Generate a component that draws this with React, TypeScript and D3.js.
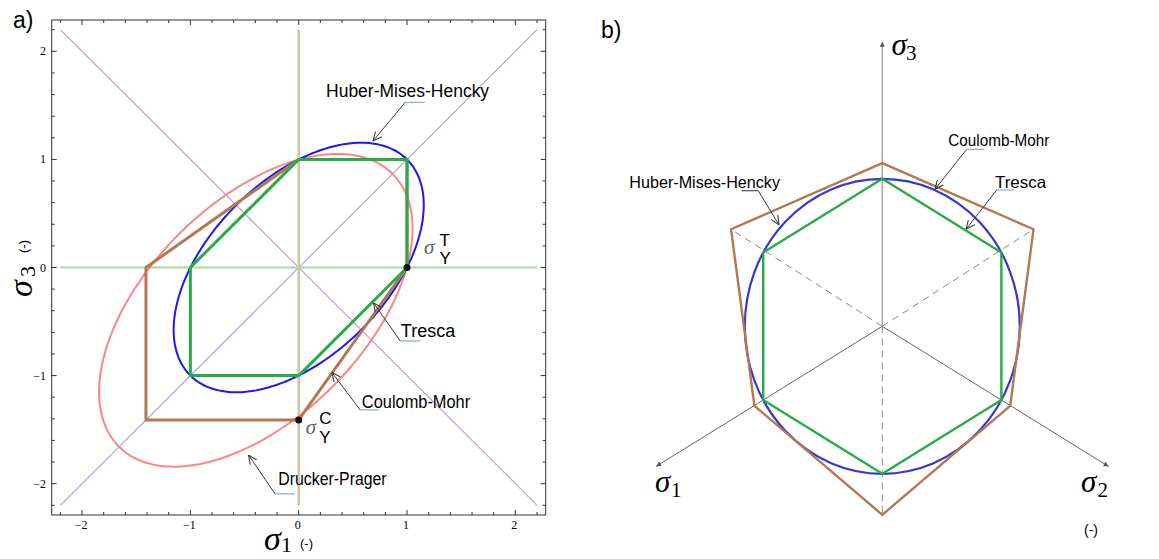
import React from 'react';
import * as d3 from 'd3';

const W = 1159;
const H = 559;

// ---------- Panel a data (plane stress, sigma1 vs sigma3) ----------
const majorTicks = [-2, -1, 0, 1, 2];
const tickLabels = ['−2', '−1', '0', '1', '2'];
const refExtent = 2.2;
const trescaS1 = [0, 1, 1, 0, -1, -1];
const trescaS3 = [1, 1, 0, -1, -1, 0];
const coulombS1 = [0, 1, 1, 0, -1.41, -1.41];
const coulombS3 = [1, 1, 0, -1.41, -1.41, 0];
// [centre along hydrostatic diagonal, semi-axis along diagonal, semi-axis across]
const hmhEllipse = [0, 1.414, 0.816];
const dpEllipse = [-0.56, 1.785, 1.0];
const yieldS1 = [1, 0];
const yieldS3 = [0, -1.41];

// ---------- Panel b data (deviatoric pi-plane) ----------
const trescaP = [0, 0.866, 0.866, 0, -0.866, -0.866];
const trescaQ = [1, 0.5, -0.5, -1, -0.5, 0.5];
const coulombP = [0, 1.1, 0.93, 0, -0.93, -1.1];
const coulombQ = [1.106, 0.658, -0.539, -1.278, -0.539, 0.658];
const hmhRadius = 1;
const axisDirP = [-0.866, 0.866, 0];
const axisDirQ = [-0.5, -0.5, 1];
const axisLength = [1.9, 1.9, 1.93];
const dashedVertex = [5, 1, 3];

const GREEN = '#2aab48';
const BLUE_A = '#1a1aee';
const BLUE_B = '#3838d0';
const BROWN = '#b37752';
const SALMON = '#ff8585';
const LEAD = '#7a98d8';
const ARROW = '#3a3a3a';
const SANS = '"Liberation Sans", Arial, sans-serif';
const SERIF = '"Liberation Serif", "Times New Roman", serif';

type Pt = [number, number];

function ellipsePts(params: number[]): Pt[] {
  const [u0, a, b] = params;
  return d3.range(0, 360, 2).map((deg) => {
    const t = (deg * Math.PI) / 180;
    const u = u0 + a * Math.cos(t);
    const v = b * Math.sin(t);
    return [(u + v) / Math.SQRT2, (u - v) / Math.SQRT2] as Pt;
  });
}
const zip = (xs: number[], ys: number[]): Pt[] => xs.map((x, i) => [x, ys[i]] as Pt);

export default function App() {
  // panel a scales
  const xA = d3.scaleLinear().domain([-2.28, 2.28]).range([51.7, 545.7]);
  const yA = d3.scaleLinear().domain([-2.29, 2.29]).range([515, 20]);
  const closedA = d3.line<Pt>().x((d) => xA(d[0])).y((d) => yA(d[1])).curve(d3.curveLinearClosed);
  const smoothA = d3.line<Pt>().x((d) => xA(d[0])).y((d) => yA(d[1])).curve(d3.curveCardinalClosed.tension(0.5));

  // panel b scales
  const xB = d3.scaleLinear().domain([0, 1]).range([882.3, 1019.8]);
  const yB = d3.scaleLinear().domain([0, 1]).range([326.3, 178.8]);
  const closedB = d3.line<Pt>().x((d) => xB(d[0])).y((d) => yB(d[1])).curve(d3.curveLinearClosed);

  const [x0, x1] = xA.range();
  const [y0, y1] = [yA.range()[1], yA.range()[0]]; // top, bottom
  const minor = d3.range(-22, 23, 2).map((v) => v / 10).filter((v) => Math.abs(v - Math.round(v)) > 1e-6);

  const tickEls: React.ReactNode[] = [];
  const addTicks = (vals: number[], len: number, key: string) => {
    vals.forEach((v, i) => {
      const px = xA(v);
      const py = yA(v);
      tickEls.push(<line key={`${key}b${i}`} x1={px} x2={px} y1={y1} y2={y1 - len} />);
      tickEls.push(<line key={`${key}t${i}`} x1={px} x2={px} y1={y0} y2={y0 + len} />);
      tickEls.push(<line key={`${key}l${i}`} x1={x0} x2={x0 + len} y1={py} y2={py} />);
      tickEls.push(<line key={`${key}r${i}`} x1={x1} x2={x1 - len} y1={py} y2={py} />);
    });
  };
  addTicks(majorTicks, 5, 'M');
  addTicks(minor, 3, 'm');

  // annotations panel a (data coordinates): text pos, leader start, leader end x, arrow tip
  const annA = [
    { label: 'Huber-Mises-Hencky', tx: 0.253, ty: 1.58, w: 163, lx: 0.983, ly: 1.528, lx2: 1.167, ax: 0.685, ay: 1.17 },
    { label: 'Tresca', tx: 0.943, ty: -0.64, w: 54.3, lx: 0.937, ly: -0.68, lx2: 1.122, ax: 0.69, ay: -0.326 },
    { label: 'Coulomb-Mohr', tx: 0.583, ty: -1.303, w: 108.3, lx: 0.568, ly: -1.318, lx2: 0.743, ax: 0.306, ay: -0.97 },
    { label: 'Drucker-Prager', tx: -0.188, ty: -2.011, w: 108.3, lx: -0.218, ly: -2.095, lx2: -0.034, ax: -0.463, ay: -1.735 },
  ];
  // annotations panel b (pi-plane coordinates)
  const annB = [
    { label: 'Huber-Mises-Hencky', tx: -1.84, ty: 0.941, w: 150.7, lx: -1.0225, lx2: -0.902, ly: 0.919, sx: -0.902, ax: -0.751, ay: 0.687, lead: '#333' },
    { label: 'Coulomb-Mohr', tx: 0.48, ty: 1.222, w: 101, lx: 0.614, lx2: 0.742, ly: 1.2, sx: 0.614, ax: 0.383, ay: 0.929, lead: LEAD },
    { label: 'Tresca', tx: 0.82, ty: 0.94, w: 51, lx: 0.832, lx2: 0.958, ly: 0.924, sx: 0.832, ax: 0.609, ay: 0.658, lead: LEAD },
  ];

  const origin: Pt = [0, 0];

  return (
    <svg width={W} height={H} style={{ position: 'absolute', left: 0, top: 0, background: '#fff' }}>
      <defs>
        <marker id="ann" viewBox="0 0 10 10" refX="10" refY="5" markerWidth="9" markerHeight="9" markerUnits="userSpaceOnUse" orient="auto">
          <path d="M0,0.5 L10,5 L0,9.5" fill="none" stroke={ARROW} strokeWidth="1.2" />
        </marker>
        <marker id="ax" viewBox="0 0 10 10" refX="10" refY="5" markerWidth="6" markerHeight="5" markerUnits="userSpaceOnUse" orient="auto">
          <path d="M0,0 L10,5 L0,10 Z" fill="#555" />
        </marker>
      </defs>

      {/* ================= Panel a ================= */}
      <text x={13} y={28} fontFamily={SANS} fontSize={23}>a)</text>

      {/* reference lines */}
      <line x1={xA(-refExtent)} y1={yA(-refExtent)} x2={xA(refExtent)} y2={yA(refExtent)} stroke="#a2a2dc" strokeWidth={1.1} />
      <line x1={xA(-refExtent)} y1={yA(refExtent)} x2={xA(refExtent)} y2={yA(-refExtent)} stroke="#c896c0" strokeWidth={1.1} />
      <line x1={xA(-refExtent)} y1={yA(0)} x2={xA(refExtent)} y2={yA(0)} stroke="#a8d6a8" strokeWidth={2} />
      <line x1={xA(0)} y1={yA(-refExtent)} x2={xA(0)} y2={yA(refExtent)} stroke="#d0c4a2" strokeWidth={2.5} />

      {/* yield surfaces */}
      <path d={smoothA(ellipsePts(dpEllipse)) || ''} fill="none" stroke={SALMON} strokeWidth={2} />
      <path d={smoothA(ellipsePts(hmhEllipse)) || ''} fill="none" stroke={BLUE_A} strokeWidth={2} />
      <path d={closedA(zip(coulombS1, coulombS3)) || ''} fill="none" stroke={BROWN} strokeWidth={3} strokeLinejoin="round" />
      <path d={closedA(zip(trescaS1, trescaS3)) || ''} fill="none" stroke={GREEN} strokeWidth={3} strokeLinejoin="round" />
      {yieldS1.map((s, i) => (
        <circle key={i} cx={xA(s)} cy={yA(yieldS3[i])} r={3.5} fill="#111" />
      ))}

      {/* yield point labels */}
      <text x={xA(yieldS1[0]) + 17} y={yA(yieldS3[0]) - 14} fontFamily={SERIF} fontStyle="italic" fontSize={21} fill="#666">σ</text>
      <text x={xA(yieldS1[0]) + 32.5} y={yA(yieldS3[0]) - 21.5} fontFamily={SANS} fontSize={17}>T</text>
      <text x={xA(yieldS1[0]) + 32.5} y={yA(yieldS3[0]) - 4} fontFamily={SANS} fontSize={17}>Y</text>
      <text x={xA(yieldS1[1]) + 7} y={yA(yieldS3[1]) + 14} fontFamily={SERIF} fontStyle="italic" fontSize={21} fill="#666">σ</text>
      <text x={xA(yieldS1[1]) + 20.6} y={yA(yieldS3[1]) + 4} fontFamily={SANS} fontSize={17}>C</text>
      <text x={xA(yieldS1[1]) + 20.6} y={yA(yieldS3[1]) + 23.4} fontFamily={SANS} fontSize={17}>Y</text>

      {/* frame & ticks */}
      <rect x={x0} y={y0} width={x1 - x0} height={y1 - y0} fill="none" stroke="#333" strokeWidth={1} />
      <g stroke="#333" strokeWidth={1}>{tickEls}</g>
      {majorTicks.map((v, i) => (
        <text key={`yl${i}`} x={46} y={yA(v) + 4} textAnchor="end" fontFamily={SERIF} fontSize={12}>{tickLabels[i]}</text>
      ))}
      {majorTicks.map((v, i) => (
        <text key={`xl${i}`} x={xA(v) - 1} y={529} textAnchor="middle" fontFamily={SERIF} fontSize={12}>{tickLabels[i]}</text>
      ))}

      {/* axis titles */}
      <text x={264} y={550} fontFamily={SERIF} fontStyle="italic" fontSize={34}>σ</text>
      <text x={281} y={552} fontFamily={SERIF} fontSize={22}>1</text>
      <text x={300} y={548} fontFamily={SANS} fontSize={13}>(-)</text>
      <g transform="translate(32,297) rotate(-90)">
        <text x={0} y={0} fontFamily={SERIF} fontStyle="italic" fontSize={34}>σ</text>
        <text x={20} y={3} fontFamily={SERIF} fontSize={22}>3</text>
        <text x={44} y={-4} fontFamily={SANS} fontSize={13}>(-)</text>
      </g>

      {/* annotations */}
      {annA.map((a, i) => (
        <g key={`aa${i}`}>
          <text x={xA(a.tx)} y={yA(a.ty)} fontFamily={SANS} fontSize={17.5} textLength={a.w} lengthAdjust="spacingAndGlyphs">{a.label}</text>
          <line x1={xA(a.lx)} y1={yA(a.ly)} x2={xA(a.lx2)} y2={yA(a.ly)} stroke={LEAD} strokeWidth={1} />
          <line x1={xA(a.lx)} y1={yA(a.ly)} x2={xA(a.ax)} y2={yA(a.ay)} stroke={ARROW} strokeWidth={1} markerEnd="url(#ann)" />
        </g>
      ))}

      {/* ================= Panel b ================= */}
      <text x={601} y={38} fontFamily={SANS} fontSize={23}>b)</text>

      {/* dashed negative axes */}
      {dashedVertex.map((vi, i) => (
        <line key={`d${i}`} x1={xB(origin[0])} y1={yB(origin[1])} x2={xB(coulombP[vi])} y2={yB(coulombQ[vi])} stroke="#888" strokeWidth={1} strokeDasharray="7,5" />
      ))}
      {/* principal axes */}
      {axisDirP.map((dp, i) => (
        <line key={`ax${i}`} x1={xB(0)} y1={yB(0)} x2={xB(dp * axisLength[i])} y2={yB(axisDirQ[i] * axisLength[i])}
          stroke={i === 2 ? '#a8a8a8' : '#666'} strokeWidth={i === 2 ? 1.5 : 1} markerEnd="url(#ax)" />
      ))}

      <ellipse cx={xB(0)} cy={yB(0)} rx={xB(hmhRadius) - xB(0)} ry={yB(0) - yB(hmhRadius)} fill="none" stroke={BLUE_B} strokeWidth={2.2} />
      <path d={closedB(zip(coulombP, coulombQ)) || ''} fill="none" stroke={BROWN} strokeWidth={2.4} strokeLinejoin="round" />
      <path d={closedB(zip(trescaP, trescaQ)) || ''} fill="none" stroke={GREEN} strokeWidth={2.4} strokeLinejoin="round" />

      {/* axis labels */}
      <text x={891.5} y={55} fontFamily={SERIF} fontStyle="italic" fontSize={31}>σ</text>
      <text x={906} y={60} fontFamily={SERIF} fontSize={21}>3</text>
      <text x={655} y={491.5} fontFamily={SERIF} fontStyle="italic" fontSize={31}>σ</text>
      <text x={671} y={496.5} fontFamily={SERIF} fontSize={21}>1</text>
      <text x={1081} y={491.5} fontFamily={SERIF} fontStyle="italic" fontSize={31}>σ</text>
      <text x={1097.5} y={496.5} fontFamily={SERIF} fontSize={21}>2</text>
      <text x={1084} y={535} fontFamily={SANS} fontSize={14}>(-)</text>

      {annB.map((a, i) => (
        <g key={`ab${i}`}>
          <text x={xB(a.tx)} y={yB(a.ty)} fontFamily={SANS} fontSize={16.5} textLength={a.w} lengthAdjust="spacingAndGlyphs">{a.label}</text>
          <line x1={xB(a.lx)} y1={yB(a.ly)} x2={xB(a.lx2)} y2={yB(a.ly)} stroke={a.lead} strokeWidth={1} />
          <line x1={xB(a.sx)} y1={yB(a.ly)} x2={xB(a.ax)} y2={yB(a.ay)} stroke={ARROW} strokeWidth={1} markerEnd="url(#ann)" />
        </g>
      ))}
    </svg>
  );
}
